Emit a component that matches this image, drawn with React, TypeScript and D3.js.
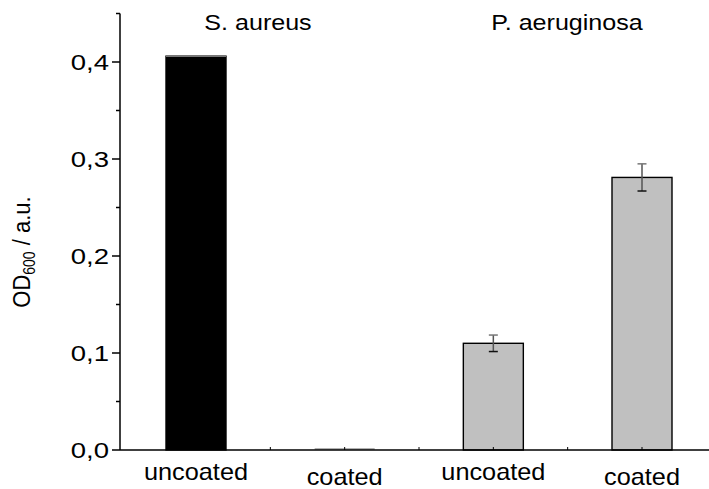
import React from "react";
import * as d3 from "d3";

const categories = ["uncoated", "coated", "uncoated", "coated"];
const groups = ["S. aureus", "P. aeruginosa"];
const values = [0.406, 0.001, 0.11, 0.281];
const errors = [0, 0, 0.0085, 0.014];
const fills = ["#000000", "#c0c0c0", "#c0c0c0", "#c0c0c0"];
const yTicks = [0, 0.1, 0.2, 0.3, 0.4];
const yMinor = [0.05, 0.15, 0.25, 0.35, 0.45];
const yTickLabels = ["0,0", "0,1", "0,2", "0,3", "0,4"];

const W = 709;
const H = 489;

export default function App() {
  const y = d3.scaleLinear().domain([0, 0.45]).range([450, 13.5]);
  const x = d3.scaleLinear().domain([1, 4]).range([196, 642]);
  const axisX = 120;
  const barW = 60;
  const font = "'Liberation Sans', Arial, sans-serif";
  const xTickPos = [1, 1.5, 2, 2.5, 3, 3.5, 4];
  return (
    <svg width={W} height={H} style={{ position: "absolute", left: 0, top: 0, background: "#fff" }} fontFamily={font}>
      <rect x={0} y={0} width={W} height={H} fill="#fff" />
      {values.map((v, i) => {
        const cx = x(i + 1);
        const top = y(v);
        const h = y(0) - top;
        if (i === 1) {
          return (
            <line key={i} x1={cx - barW / 2} x2={cx + barW / 2} y1={top} y2={top} stroke="#999" strokeWidth={1.5} />
          );
        }
        return (
          <g key={i}>
            <rect x={cx - barW / 2} y={top} width={barW} height={h} fill={fills[i]} stroke="#000" strokeWidth={1.4} />
            {i === 0 && (
              <line x1={cx - barW / 2} x2={cx + barW / 2} y1={top} y2={top} stroke="#777" strokeWidth={1.4} />
            )}
          </g>
        );
      })}
      {values.map((v, i) => {
        if (!errors[i]) return null;
        const cx = x(i + 1);
        const t = y(v + errors[i]);
        const b = y(v - errors[i]);
        return (
          <g key={"e" + i}>
            <line x1={cx} x2={cx} y1={t} y2={b} stroke="#555" strokeWidth={1.5} />
            <line x1={cx - 4.5} x2={cx + 4.5} y1={t} y2={t} stroke="#777" strokeWidth={1.5} />
            <line x1={cx - 4.5} x2={cx + 4.5} y1={b} y2={b} stroke="#111" strokeWidth={1.5} />
          </g>
        );
      })}
      <line x1={axisX} x2={axisX} y1={y(0.45)} y2={y(0)} stroke="#000" strokeWidth={1.5} />
      <line x1={axisX} x2={W} y1={y(0)} y2={y(0)} stroke="#000" strokeWidth={1.5} />
      {yTicks.map((t, i) => (
        <g key={"yt" + i}>
          <line x1={axisX - 8} x2={axisX} y1={y(t)} y2={y(t)} stroke="#000" strokeWidth={1.5} />
          <text
            transform={`translate(109,${y(t) + 8}) scale(1.25,1)`}
            textAnchor="end"
            fontSize={22}
            fill="#000"
          >
            {yTickLabels[i]}
          </text>
        </g>
      ))}
      {yMinor.map((t, i) => (
        <line key={"ym" + i} x1={axisX - 4} x2={axisX} y1={y(t)} y2={y(t)} stroke="#000" strokeWidth={1.5} />
      ))}
      {xTickPos.map((p, i) => (
        <line key={"xt" + i} x1={x(p)} x2={x(p)} y1={y(0) - 3} y2={y(0)} stroke="#000" strokeWidth={1} />
      ))}
      {categories.map((c, i) => (
        <text
          key={"c" + i}
          transform={`translate(${x(i + 1)},${i % 2 === 0 ? 480 : 485}) scale(1.1,1)`}
          textAnchor="middle"
          fontSize={23}
          fill="#000"
        >
          {c}
        </text>
      ))}
      {groups.map((g, i) => (
        <text
          key={"g" + i}
          transform={`translate(${i === 0 ? 258 : 567},30) scale(1.14,1)`}
          textAnchor="middle"
          fontSize={22}
          fill="#000"
        >
          {g}
        </text>
      ))}
      <text transform="translate(30,252) rotate(-90) scale(1,1.12)" textAnchor="middle" fontSize={22} fill="#000">
        OD
        <tspan fontSize={14} baselineShift="-30%">600</tspan>
        <tspan> / a.u.</tspan>
      </text>
    </svg>
  );
}
